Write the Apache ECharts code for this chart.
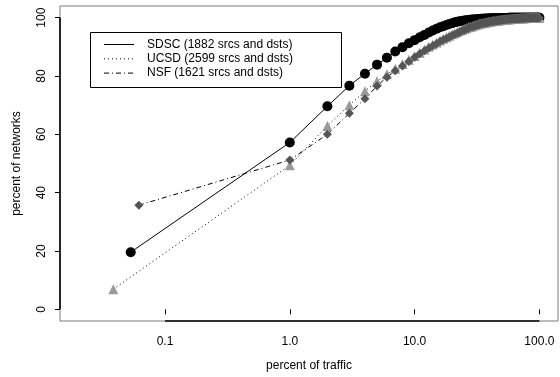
<!DOCTYPE html>
<html>
<head>
<meta charset="utf-8">
<script src="https://cdn.jsdelivr.net/npm/echarts@6/dist/echarts.min.js"></script>
<style>
html,body{margin:0;padding:0;background:#fff;}
#chart{width:560px;height:377px;}
</style>
</head>
<body>
<div id="chart"></div>
<script>
// percent of traffic (x values, log scale)
const pctTraffic = [1,2,3,4,5,6,7,8,9,10,11,12,13,14,15,16,17,18,19,20,21,22,23,24,25,26,27,28,29,30,31,32,33,34,35,36,37,38,39,40,41,42,43,44,45,46,47,48,49,50,51,52,53,54,55,56,57,58,59,60,61,62,63,64,65,66,67,68,69,70,71,72,73,74,75,76,77,78,79,80,81,82,83,84,85,86,87,88,89,90,91,92,93,94,95,96,97,98,99,100];

// first (smallest) point of each series
const sdscFirst = [0.0531, 19.6];
const ucsdFirst = [0.0385, 6.9];
const nsfFirst  = [0.0617, 35.7];

// percent of networks at pctTraffic
const sdscNets = [57.2,69.6,76.7,80.8,83.9,86.3,88.4,89.9,91.2,92.3,
  93.3,94.1,94.9,95.6,96.2,96.7,97.1,97.5,97.8,98.1,
  98.4,98.6,98.8,98.9,99.0,99.1,99.2,99.3,99.35,99.4,
  99.45,99.5,99.55,99.6,99.62,99.65,99.68,99.7,99.72,99.75,
  99.77,99.79,99.8,99.82,99.84,99.85,99.86,99.87,99.88,99.89,
  99.9,99.9,99.91,99.91,99.92,99.92,99.93,99.93,99.94,99.94,
  99.95,99.95,99.95,99.96,99.96,99.96,99.97,99.97,99.97,99.97,
  99.98,99.98,99.98,99.98,99.98,99.98,99.98,99.99,99.99,99.99,
  99.99,99.99,99.99,99.99,99.99,99.99,99.99,99.99,100,100,
  100,100,100,100,100,100,100,100,100,100];

const ucsdNets = [49.4,62.9,70.0,74.8,78.2,80.6,82.5,84.1,85.6,86.9,
  88.0,89.1,90.0,90.8,91.5,92.2,92.8,93.3,93.8,94.3,
  94.7,95.1,95.5,95.8,96.1,96.4,96.7,96.9,97.1,97.3,
  97.5,97.7,97.9,98.0,98.1,98.2,98.3,98.4,98.5,98.6,
  98.7,98.8,98.85,98.9,98.95,99.0,99.05,99.1,99.15,99.2,
  99.25,99.3,99.33,99.36,99.4,99.43,99.46,99.5,99.52,99.55,
  99.58,99.6,99.62,99.64,99.66,99.68,99.7,99.72,99.74,99.76,
  99.78,99.8,99.81,99.82,99.83,99.84,99.85,99.86,99.87,99.88,
  99.89,99.9,99.91,99.92,99.93,99.94,99.95,99.96,99.96,99.97,
  99.97,99.98,99.98,99.99,99.99,99.99,100,100,100,100];

const nsfNets = [51.2,60.0,67.2,72.2,76.6,79.6,81.8,83.4,85.0,86.4,
  87.6,88.7,89.6,90.4,91.1,91.8,92.4,92.9,93.4,93.9,
  94.3,94.7,95.1,95.5,95.8,96.1,96.4,96.7,96.9,97.1,
  97.3,97.5,97.7,97.9,98.0,98.1,98.2,98.3,98.4,98.5,
  98.6,98.7,98.8,98.85,98.9,98.95,99.0,99.05,99.1,99.15,
  99.2,99.25,99.3,99.33,99.36,99.4,99.43,99.46,99.5,99.52,
  99.55,99.58,99.6,99.62,99.64,99.66,99.68,99.7,99.72,99.74,
  99.76,99.78,99.8,99.81,99.82,99.83,99.84,99.85,99.86,99.87,
  99.88,99.89,99.9,99.91,99.92,99.93,99.94,99.95,99.96,99.97,
  99.97,99.98,99.98,99.99,99.99,99.99,100,100,100,100];

const seriesNames = ['SDSC (1882 srcs and dsts)', 'UCSD (2599 srcs and dsts)', 'NSF (1621 srcs and dsts)'];
const xTicks = [0.1, 1, 10, 100];
const xTickLabels = ['0.1', '1.0', '10.0', '100.0'];
const yTicks = [0, 20, 40, 60, 80, 100];

const xMin = 0.0144, xMax = 141, yMin = -4, yMax = 104;

function build(first, ys) {
  return [first].concat(pctTraffic.map((x, i) => [x, ys[i]]));
}

const FONT = 'Liberation Sans, Arial, Helvetica, sans-serif';
const chart = echarts.init(document.getElementById('chart'), null, {renderer: 'canvas'});

const legendRows = [
  {name: seriesNames[0], dash: null},
  {name: seriesNames[1], dash: [1, 3]},
  {name: seriesNames[2], dash: [5, 3, 1, 3]}
];
const legendGraphics = [{
  type: 'rect', shape: {x: 90.5, y: 32.5, width: 251, height: 55},
  style: {fill: '#fff', stroke: '#000', lineWidth: 1}, z: 100
}];
legendRows.forEach((r, i) => {
  const y = 44.5 + i * 14.3;
  legendGraphics.push({
    type: 'line', shape: {x1: 104, y1: y, x2: 134, y2: y},
    style: {stroke: '#000', lineWidth: 1, lineDash: r.dash}, z: 101
  });
  legendGraphics.push({
    type: 'text', x: 147, y: y,
    style: {text: r.name, font: '12px ' + FONT, fill: '#000', textVerticalAlign: 'middle', verticalAlign: 'middle'},
    z: 101
  });
});

chart.setOption({
  animation: false,
  backgroundColor: '#fff',
  grid: {left: 60, right: 2, top: 6, bottom: 55, show: true, borderColor: '#7a7a7a', borderWidth: 1, containLabel: false},
  xAxis: {
    type: 'log', logBase: 10, min: xMin, max: xMax,
    name: 'percent of traffic', nameLocation: 'middle', nameGap: 39,
    nameTextStyle: {fontFamily: FONT, fontSize: 12, color: '#000'},
    axisLine: {show: false},
    axisTick: {show: true, length: 5, customValues: xTicks, lineStyle: {color: '#000'}},
    axisLabel: {customValues: xTicks, margin: 15, fontFamily: FONT, fontSize: 12, color: '#000',
      formatter: v => { const i = xTicks.findIndex(t => Math.abs(t - v) / t < 1e-6); return i >= 0 ? xTickLabels[i] : ''; }},
    splitLine: {show: false}
  },
  yAxis: {
    type: 'value', min: yMin, max: yMax,
    name: 'percent of networks', nameLocation: 'middle', nameGap: 37,
    nameTextStyle: {fontFamily: FONT, fontSize: 12, color: '#000'},
    axisLine: {show: false},
    axisTick: {show: true, length: 5, customValues: yTicks, lineStyle: {color: '#000'}},
    axisLabel: {customValues: yTicks, rotate: 90, margin: 12, fontFamily: FONT, fontSize: 12, color: '#000'},
    splitLine: {show: false}
  },
  graphic: legendGraphics,
  series: [
    {
      name: seriesNames[0], type: 'line', data: build(sdscFirst, sdscNets),
      symbol: 'circle', symbolSize: 10, clip: false,
      itemStyle: {color: '#000'}, lineStyle: {color: '#000', width: 1, type: 'solid'},
      markLine: {
        silent: true, symbol: 'none', label: {show: false},
        lineStyle: {color: '#000', width: 1.6, type: 'solid'},
        data: [
          [{coord: [xTicks[0], yMin]}, {coord: [xTicks[xTicks.length - 1], yMin]}],
          [{coord: [xMin, yTicks[0]]}, {coord: [xMin, yTicks[yTicks.length - 1]]}]
        ]
      }
    },
    {
      name: seriesNames[1], type: 'line', data: build(ucsdFirst, ucsdNets),
      symbol: 'triangle', symbolSize: 10,
      itemStyle: {color: '#9a9a9a'}, lineStyle: {color: '#000', width: 1, type: [1, 3]}
    },
    {
      name: seriesNames[2], type: 'line', data: build(nsfFirst, nsfNets),
      symbol: 'diamond', symbolSize: 9,
      itemStyle: {color: '#555555'}, lineStyle: {color: '#000', width: 1, type: [5, 3, 1, 3]}
    }
  ]
});
</script>
</body>
</html>
